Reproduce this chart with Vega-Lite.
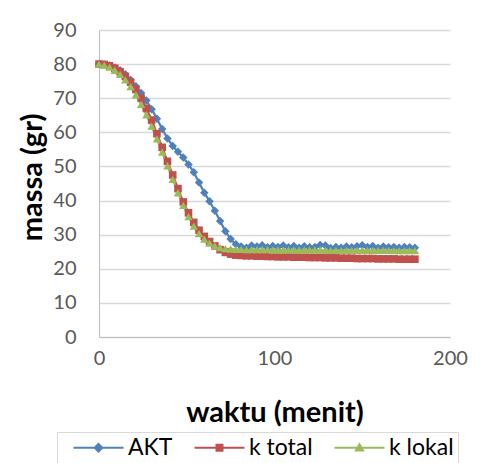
{
  "$schema": "https://vega.github.io/schema/vega-lite/v6.json",
  "width": 351,
  "height": 307,
  "autosize": {"type": "none"},
  "padding": {"left": 99, "top": 30, "right": 44, "bottom": 126},
  "background": "white",
  "config": {"view": {"stroke": null}},
  "data": {"values": [
    {"t":0,"s":"AKT","m":80.0},{"t":3,"s":"AKT","m":79.9},{"t":6,"s":"AKT","m":79.6},{"t":9,"s":"AKT","m":79.0},{"t":12,"s":"AKT","m":78.2},{"t":15,"s":"AKT","m":77.0},{"t":18,"s":"AKT","m":75.4},{"t":21,"s":"AKT","m":73.5},{"t":24,"s":"AKT","m":71.5},{"t":27,"s":"AKT","m":69.3},{"t":30,"s":"AKT","m":66.8},{"t":33,"s":"AKT","m":64.0},{"t":36,"s":"AKT","m":61.0},{"t":39,"s":"AKT","m":58.2},{"t":42,"s":"AKT","m":56.0},{"t":45,"s":"AKT","m":54.3},{"t":48,"s":"AKT","m":52.6},{"t":51,"s":"AKT","m":50.6},{"t":54,"s":"AKT","m":48.3},{"t":57,"s":"AKT","m":45.3},{"t":60,"s":"AKT","m":42.3},{"t":63,"s":"AKT","m":39.8},{"t":66,"s":"AKT","m":37.0},{"t":69,"s":"AKT","m":34.0},{"t":72,"s":"AKT","m":31.0},{"t":75,"s":"AKT","m":28.7},{"t":78,"s":"AKT","m":27.2},{"t":81,"s":"AKT","m":26.5},{"t":84,"s":"AKT","m":26.2},{"t":87,"s":"AKT","m":26.8},{"t":90,"s":"AKT","m":26.5},{"t":93,"s":"AKT","m":26.9},{"t":96,"s":"AKT","m":26.3},{"t":99,"s":"AKT","m":26.7},{"t":102,"s":"AKT","m":26.4},{"t":105,"s":"AKT","m":26.8},{"t":108,"s":"AKT","m":26.3},{"t":111,"s":"AKT","m":26.7},{"t":114,"s":"AKT","m":26.2},{"t":117,"s":"AKT","m":26.6},{"t":120,"s":"AKT","m":26.3},{"t":123,"s":"AKT","m":26.4},{"t":126,"s":"AKT","m":27.0},{"t":129,"s":"AKT","m":26.8},{"t":132,"s":"AKT","m":26.1},{"t":135,"s":"AKT","m":26.4},{"t":138,"s":"AKT","m":26.2},{"t":141,"s":"AKT","m":26.5},{"t":144,"s":"AKT","m":26.3},{"t":147,"s":"AKT","m":26.6},{"t":150,"s":"AKT","m":26.9},{"t":153,"s":"AKT","m":26.4},{"t":156,"s":"AKT","m":26.7},{"t":159,"s":"AKT","m":26.2},{"t":162,"s":"AKT","m":26.5},{"t":165,"s":"AKT","m":26.3},{"t":168,"s":"AKT","m":26.4},{"t":171,"s":"AKT","m":26.2},{"t":174,"s":"AKT","m":26.4},{"t":177,"s":"AKT","m":26.3},{"t":180,"s":"AKT","m":26.2},
    {"t":0,"s":"k total","m":80.0},{"t":3,"s":"k total","m":79.9},{"t":6,"s":"k total","m":79.5},{"t":9,"s":"k total","m":78.8},{"t":12,"s":"k total","m":77.8},{"t":15,"s":"k total","m":76.4},{"t":18,"s":"k total","m":74.7},{"t":21,"s":"k total","m":72.6},{"t":24,"s":"k total","m":70.0},{"t":27,"s":"k total","m":67.0},{"t":30,"s":"k total","m":63.6},{"t":33,"s":"k total","m":59.6},{"t":36,"s":"k total","m":55.6},{"t":39,"s":"k total","m":51.5},{"t":42,"s":"k total","m":47.5},{"t":45,"s":"k total","m":43.5},{"t":48,"s":"k total","m":39.6},{"t":51,"s":"k total","m":36.4},{"t":54,"s":"k total","m":33.6},{"t":57,"s":"k total","m":31.3},{"t":60,"s":"k total","m":29.5},{"t":63,"s":"k total","m":28.0},{"t":66,"s":"k total","m":26.7},{"t":69,"s":"k total","m":25.6},{"t":72,"s":"k total","m":24.8},{"t":75,"s":"k total","m":24.3},{"t":78,"s":"k total","m":24.0},{"t":81,"s":"k total","m":23.9},{"t":84,"s":"k total","m":23.8},{"t":87,"s":"k total","m":23.8},{"t":90,"s":"k total","m":23.7},{"t":93,"s":"k total","m":23.7},{"t":96,"s":"k total","m":23.6},{"t":99,"s":"k total","m":23.6},{"t":102,"s":"k total","m":23.5},{"t":105,"s":"k total","m":23.5},{"t":108,"s":"k total","m":23.5},{"t":111,"s":"k total","m":23.4},{"t":114,"s":"k total","m":23.4},{"t":117,"s":"k total","m":23.4},{"t":120,"s":"k total","m":23.3},{"t":123,"s":"k total","m":23.3},{"t":126,"s":"k total","m":23.3},{"t":129,"s":"k total","m":23.2},{"t":132,"s":"k total","m":23.2},{"t":135,"s":"k total","m":23.2},{"t":138,"s":"k total","m":23.1},{"t":141,"s":"k total","m":23.1},{"t":144,"s":"k total","m":23.1},{"t":147,"s":"k total","m":23.0},{"t":150,"s":"k total","m":23.0},{"t":153,"s":"k total","m":23.0},{"t":156,"s":"k total","m":23.0},{"t":159,"s":"k total","m":22.9},{"t":162,"s":"k total","m":22.9},{"t":165,"s":"k total","m":22.9},{"t":168,"s":"k total","m":22.9},{"t":171,"s":"k total","m":22.8},{"t":174,"s":"k total","m":22.8},{"t":177,"s":"k total","m":22.8},{"t":180,"s":"k total","m":22.8},
    {"t":0,"s":"k lokal","m":80.0},{"t":3,"s":"k lokal","m":79.7},{"t":6,"s":"k lokal","m":79.1},{"t":9,"s":"k lokal","m":78.2},{"t":12,"s":"k lokal","m":77.0},{"t":15,"s":"k lokal","m":75.4},{"t":18,"s":"k lokal","m":73.4},{"t":21,"s":"k lokal","m":71.0},{"t":24,"s":"k lokal","m":68.2},{"t":27,"s":"k lokal","m":65.1},{"t":30,"s":"k lokal","m":61.8},{"t":33,"s":"k lokal","m":58.1},{"t":36,"s":"k lokal","m":54.2},{"t":39,"s":"k lokal","m":50.2},{"t":42,"s":"k lokal","m":46.2},{"t":45,"s":"k lokal","m":42.3},{"t":48,"s":"k lokal","m":38.6},{"t":51,"s":"k lokal","m":35.3},{"t":54,"s":"k lokal","m":32.5},{"t":57,"s":"k lokal","m":30.3},{"t":60,"s":"k lokal","m":28.7},{"t":63,"s":"k lokal","m":27.5},{"t":66,"s":"k lokal","m":26.7},{"t":69,"s":"k lokal","m":26.2},{"t":72,"s":"k lokal","m":25.9},{"t":75,"s":"k lokal","m":25.8},{"t":78,"s":"k lokal","m":25.7},{"t":81,"s":"k lokal","m":25.7},{"t":84,"s":"k lokal","m":25.6},{"t":87,"s":"k lokal","m":25.6},{"t":90,"s":"k lokal","m":25.6},{"t":93,"s":"k lokal","m":25.6},{"t":96,"s":"k lokal","m":25.6},{"t":99,"s":"k lokal","m":25.5},{"t":102,"s":"k lokal","m":25.5},{"t":105,"s":"k lokal","m":25.5},{"t":108,"s":"k lokal","m":25.5},{"t":111,"s":"k lokal","m":25.5},{"t":114,"s":"k lokal","m":25.5},{"t":117,"s":"k lokal","m":25.5},{"t":120,"s":"k lokal","m":25.5},{"t":123,"s":"k lokal","m":25.5},{"t":126,"s":"k lokal","m":25.5},{"t":129,"s":"k lokal","m":25.4},{"t":132,"s":"k lokal","m":25.4},{"t":135,"s":"k lokal","m":25.4},{"t":138,"s":"k lokal","m":25.4},{"t":141,"s":"k lokal","m":25.4},{"t":144,"s":"k lokal","m":25.4},{"t":147,"s":"k lokal","m":25.4},{"t":150,"s":"k lokal","m":25.4},{"t":153,"s":"k lokal","m":25.4},{"t":156,"s":"k lokal","m":25.4},{"t":159,"s":"k lokal","m":25.4},{"t":162,"s":"k lokal","m":25.4},{"t":165,"s":"k lokal","m":25.4},{"t":168,"s":"k lokal","m":25.3},{"t":171,"s":"k lokal","m":25.3},{"t":174,"s":"k lokal","m":25.3},{"t":177,"s":"k lokal","m":25.3},{"t":180,"s":"k lokal","m":25.3}
  ]},
  "encoding": {
    "x": {
      "field": "t", "type": "quantitative",
      "scale": {"domain": [0, 200], "nice": false},
      "axis": {
        "values": [0, 100, 200], "grid": false, "ticks": false, "labelFlush": false,
        "domainColor": "#bfbfbf", "domainWidth": 1,
        "labelFont": "Lato", "labelFontSize": 20, "labelColor": "#595959", "labelPadding": 11,
        "title": "waktu (menit)", "titleFont": "Lato", "titleFontSize": 29, "titleFontWeight": "bold", "titleColor": "#000000",
        "titleY": 75, "titleBaseline": "middle"
      }
    },
    "y": {
      "field": "m", "type": "quantitative",
      "scale": {"domain": [0, 90], "nice": false},
      "axis": {
        "values": [0, 10, 20, 30, 40, 50, 60, 70, 80, 90], "grid": true, "gridColor": "#d9d9d9", "gridWidth": 1.5, "ticks": false, "labelFlush": false,
        "domainColor": "#bfbfbf", "domainWidth": 1,
        "labelFont": "Lato", "labelFontSize": 20, "labelColor": "#595959", "labelPadding": 23,
        "title": "massa (gr)", "titleFont": "Lato", "titleFontSize": 29, "titleFontWeight": "bold", "titleColor": "#000000",
        "titleX": -67, "titleY": 147, "titleAngle": -90, "titleAlign": "center", "titleBaseline": "middle"
      }
    }
  },
  "layer": [
    {
      "mark": {"type": "line", "strokeWidth": 2.25},
      "encoding": {
        "color": {
          "field": "s", "type": "nominal",
          "scale": {"domain": ["AKT", "k total", "k lokal"], "range": ["#4F81BD", "#C0504D", "#9BBB59"]},
          "legend": {
            "orient": "none", "legendX": -42, "legendY": 402, "direction": "horizontal", "title": null,
            "symbolSize": 400, "symbolStrokeWidth": 2, "symbolOffset": 26, "labelOffset": 18, "padding": 4, "columnPadding": 9,
            "strokeColor": "#d9d9d9", "fillColor": "white",
            "labelFont": "Lato", "labelFontSize": 23, "labelColor": "#000000",
            "encode": {"symbols": {"update": {
              "shape": {"signal": "datum.value == 'AKT' ? 'M-2.5,0H2.5M-0.38,0L0,-0.38L0.38,0L0,0.38Z' : datum.value == 'k total' ? 'M-2.5,0H2.5M-0.3,-0.3H0.3V0.3H-0.3Z' : 'M-2.5,0H2.5M-0.36,0.28L0,-0.34L0.36,0.28Z'"},
              "fill": {"signal": "datum.value == 'AKT' ? '#4F81BD' : datum.value == 'k total' ? '#C0504D' : '#9BBB59'"},
              "stroke": {"signal": "datum.value == 'AKT' ? '#4F81BD' : datum.value == 'k total' ? '#C0504D' : '#9BBB59'"},
              "strokeWidth": {"value": 2},
              "opacity": {"value": 1}
            }}}
          }
        }
      }
    },
    {
      "transform": [{"filter": "datum.s == 'AKT'"}],
      "mark": {"type": "point", "filled": true, "opacity": 1, "size": 72, "shape": "diamond", "color": "#4F81BD"}
    },
    {
      "transform": [{"filter": "datum.s == 'k total'"}],
      "mark": {"type": "point", "filled": true, "opacity": 1, "size": 58, "shape": "square", "color": "#C0504D"}
    },
    {
      "transform": [{"filter": "datum.s == 'k lokal'"}],
      "mark": {"type": "point", "filled": true, "opacity": 1, "size": 72, "shape": "triangle-up", "color": "#9BBB59"}
    }
  ]
}
